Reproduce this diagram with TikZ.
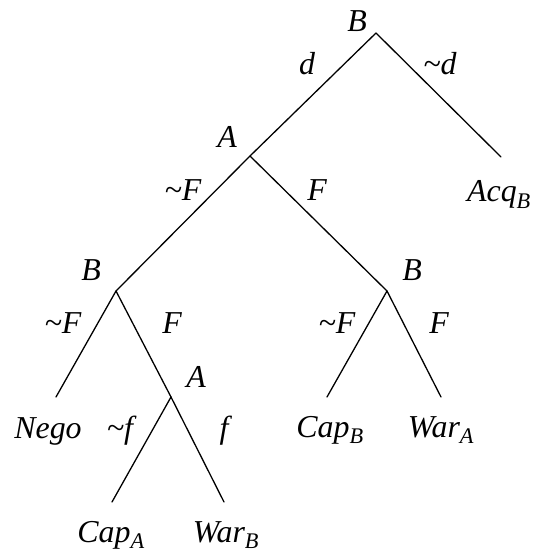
\documentclass[tikz,border=0pt]{standalone}
\usepackage{fontspec}
\setmainfont{Liberation Serif}
\usetikzlibrary{positioning}
\newcommand{\nt}{\textasciitilde}
\tikzset{
  lbl/.style={font=\fontsize{32}{34}\selectfont\itshape, inner sep=0pt, anchor=base},
  edge/.style={line width=1.3bp, line cap=round}
}
\begin{document}
\begin{tikzpicture}[x=1bp,y=-1bp]
\useasboundingbox (0,0) rectangle (533,552);
% decision points
\coordinate (rootB) at (376,33);
\coordinate (midA) at (250,156);
\coordinate (leftB) at (116,291);
\coordinate (rightB) at (387,291);
\coordinate (lowA) at (171,397);
% outcomes
\coordinate (acq) at (501,157);
\coordinate (nego) at (56,397);
\coordinate (capa) at (112,502);
\coordinate (warb) at (224,502);
\coordinate (capb) at (327,397);
\coordinate (wara) at (441,397);
% branches
\draw[edge] (rootB) -- (midA);
\draw[edge] (rootB) -- (acq);
\draw[edge] (midA) -- (leftB);
\draw[edge] (midA) -- (rightB);
\draw[edge] (leftB) -- (nego);
\draw[edge] (leftB) -- (lowA);
\draw[edge] (lowA) -- (capa);
\draw[edge] (lowA) -- (warb);
\draw[edge] (rightB) -- (capb);
\draw[edge] (rightB) -- (wara);
% players
\node[lbl] (pB0) at (357,32) {B};
\node[lbl] (pA1) at (227,148) {A};
\node[lbl] (pB2) at (91,280) {B};
\node[lbl] (pB3) at (412,280) {B};
\node[lbl] (pA4) at (196,387) {A};
% moves
\node[lbl] (md) at (307,75) {d};
\node[lbl] (mnd) at (440,75) {\nt d};
\node[lbl] (mnF1) at (183,201) {\nt F};
\node[lbl] (mF1) at (317,201) {F};
\node[lbl] (mnF2) at (63,333) {\nt F};
\node[lbl] (mF2) at (172,333) {F};
\node[lbl] (mnF3) at (337,333) {\nt F};
\node[lbl] (mF3) at (439,333) {F};
\node[lbl] (mnf) at (120,438) {\nt f};
\node[lbl] (mf) at (224,438) {f};
% payoffs
\node[lbl] (oAcq) at (499,202) {Acq\textsubscript{B}};
\node[lbl] (oNego) at (48,438) {Nego};
\node[lbl] (oCapB) at (330,437) {Cap\textsubscript{B}};
\node[lbl] (oWarA) at (441,437) {War\textsubscript{A}};
\node[lbl] (oCapA) at (111,542) {Cap\textsubscript{A}};
\node[lbl] (oWarB) at (226,542) {War\textsubscript{B}};
\end{tikzpicture}
\end{document}
